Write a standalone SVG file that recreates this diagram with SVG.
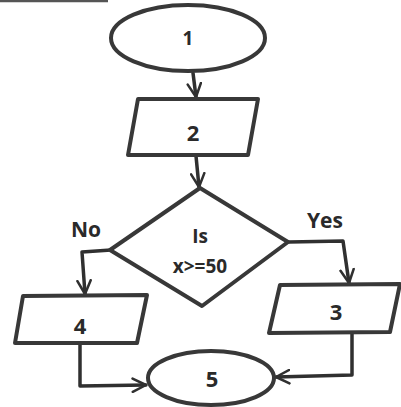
<svg xmlns="http://www.w3.org/2000/svg" width="401" height="407" viewBox="0 0 401 407">
<style>
.s{fill:#fff;stroke:#383838;stroke-width:4;stroke-linejoin:round}
.c{fill:none;stroke:#303030;stroke-width:3.5;stroke-linejoin:round;stroke-linecap:round}
.t{font-family:"Open Sans","Liberation Sans",sans-serif;font-weight:700;fill:#2a2a2a;text-anchor:middle}
</style>
<defs>
<marker id="a" viewBox="0 0 12 12" refX="11" refY="6" markerWidth="16" markerHeight="16" markerUnits="userSpaceOnUse" orient="auto">
<path d="M1,1 L11,6 L1,11" fill="none" stroke="#303030" stroke-width="1.9" stroke-linejoin="round" stroke-linecap="round"/>
</marker>
</defs>
<rect width="401" height="407" fill="#fff"/>
<line x1="0" y1="1" x2="108" y2="1" stroke="#555" stroke-width="2.5"/>
<g id="connectors">
<path class="c" d="M193,73 L196,97" marker-end="url(#a)"/>
<path class="c" d="M196,156 L199,187" marker-end="url(#a)"/>
<path class="c" d="M111,250 L82,252 L85,294" marker-end="url(#a)"/>
<path class="c" d="M289,242 L343,241 L349,283" marker-end="url(#a)"/>
<path class="c" d="M80,344 L80,386 L146,385" marker-end="url(#a)"/>
<path class="c" d="M352,334 L352,375 L276,377" marker-end="url(#a)"/>
</g>
<g id="n1">
<ellipse class="s" cx="188" cy="38" rx="77" ry="33"/>
<text class="t" x="188" y="45" font-size="19">1</text>
</g>
<g id="n2">
<polygon class="s" points="138,99 258,99 248,155 128,155"/>
<text class="t" x="193" y="141" font-size="22">2</text>
</g>
<g id="n_dec">
<polygon class="s" points="200,188 288,242 202,306 110,250"/>
<text class="t" x="200" y="243" font-size="19">Is</text>
<text class="t" x="200" y="273" font-size="19">x&gt;=50</text>
</g>
<g id="n3">
<polygon class="s" points="280,285 400,284 390,332 269,333"/>
<text class="t" x="336" y="320" font-size="22">3</text>
</g>
<g id="n4">
<polygon class="s" points="23,296 147,295 137,343 15,343"/>
<text class="t" x="80" y="334" font-size="22">4</text>
</g>
<g id="n5">
<ellipse class="s" cx="211" cy="378" rx="63" ry="27"/>
<text class="t" x="212" y="387" font-size="22">5</text>
</g>
<text class="t" x="86" y="237" font-size="21">No</text>
<text class="t" x="325" y="228" font-size="21">Yes</text>
</svg>
